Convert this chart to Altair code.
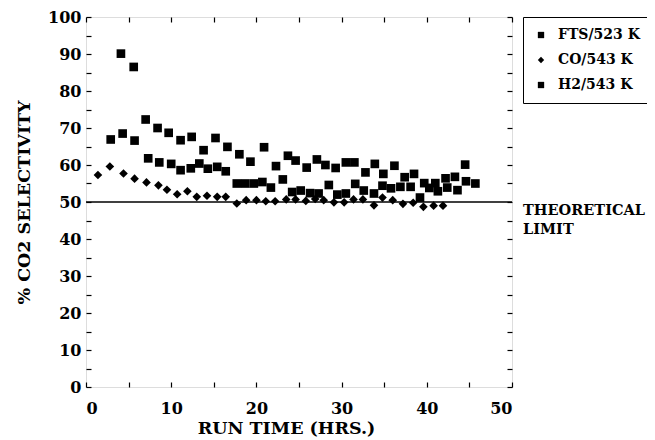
import altair as alt
import pandas as pd

# ---- data ----
fts_x = [4.1, 5.6, 7.0, 8.4, 9.7, 11.1, 12.4, 13.8, 15.2, 16.6, 18.0, 19.3, 20.9, 22.3,
         23.7, 24.6, 25.9, 27.1, 28.1, 29.3, 30.5, 31.5, 32.8, 33.9, 34.9, 36.2, 37.4,
         38.5, 39.7, 41.0, 42.2, 43.3, 44.5, 44.6, 45.7]
fts_y = [90.1, 86.5, 72.3, 70.0, 68.7, 66.7, 67.6, 64.0, 67.3, 64.9, 62.9, 60.9, 64.8, 59.7,
         62.5, 61.2, 59.3, 61.5, 60.0, 59.2, 60.7, 60.7, 58.0, 60.3, 57.6, 59.8, 56.7,
         57.6, 55.1, 55.1, 56.4, 56.8, 60.1, 55.6, 55.0]

co_x = [1.4, 2.8, 4.4, 5.7, 7.1, 8.5, 9.5, 10.7, 11.9, 13.0, 14.2, 15.4, 16.4, 17.7, 18.8,
        20.0, 21.1, 22.2, 23.5, 24.6, 25.8, 26.9, 27.9, 29.1, 30.3, 31.4, 32.5, 33.8, 34.8,
        36.0, 37.2, 38.4, 39.6, 40.8, 41.9]
co_y = [57.3, 59.6, 57.7, 56.3, 55.3, 54.5, 53.3, 52.1, 52.9, 51.4, 51.7, 51.4, 51.4, 49.6, 50.5,
        50.5, 50.2, 50.2, 50.7, 50.7, 50.3, 50.8, 50.5, 49.9, 49.9, 50.7, 50.7, 49.1, 51.2,
        50.5, 49.5, 49.8, 48.7, 49.0, 49.0]

h2_x = [2.9, 4.3, 5.7, 7.3, 8.6, 10.0, 11.1, 12.3, 13.3, 14.3, 15.4, 16.4, 17.7, 18.7, 19.7,
        20.7, 21.7, 23.1, 24.2, 25.2, 26.3, 27.3, 28.5, 29.5, 30.5, 31.6, 32.6, 33.8, 34.8,
        35.8, 36.9, 38.1, 39.2, 40.3, 41.3, 42.4, 43.6]
h2_y = [66.9, 68.5, 66.6, 61.8, 60.7, 60.3, 58.6, 59.1, 60.4, 59.0, 59.5, 58.3, 55.0, 55.0, 55.0,
        55.4, 53.9, 56.1, 52.7, 53.1, 52.4, 52.3, 54.6, 52.0, 52.3, 54.9, 53.1, 52.3, 54.4,
        53.7, 54.1, 54.1, 51.2, 53.8, 52.9, 53.9, 53.2]

series_names = ["FTS/523 K", "CO/543 K", "H2/543 K"]
series_shapes = ["square", "diamond", "square"]
theoretical_limit = [50]
x_ticks = [0, 5, 10, 15, 20, 25, 30, 35, 40, 45, 50]
y_ticks = list(range(0, 101, 5))

rows = []
for name, xs, ys in zip(series_names, [fts_x, co_x, h2_x], [fts_y, co_y, h2_y]):
    for a, b in zip(xs, ys):
        rows.append({"t": a, "s": b, "series": name})
df = pd.DataFrame(rows)

W, H = 426, 370
FONT = "DejaVu Serif"

xscale = alt.Scale(domain=[0, 50], nice=False)
yscale = alt.Scale(domain=[0, 100], nice=False)
LBL = "datum.value % 10 === 0 ? datum.label : ''"
INWARD = alt.ExprRef("-5")

leg = alt.Legend(title=None, orient="none", legendX=437, legendY=0,
                 strokeColor="black", padding=11, labelFont=FONT,
                 labelFontSize=14, labelFontWeight="bold",
                 labelColor="black", symbolSize=40, rowPadding=11,
                 labelOffset=10, symbolStrokeWidth=0)

points = alt.Chart(df).mark_point(filled=True, opacity=1, size=75).encode(
    x=alt.X("t:Q", scale=xscale, title="RUN TIME (HRS.)",
            axis=alt.Axis(orient="bottom", values=x_ticks, labelExpr=LBL, domain=False,
                          tickSize=INWARD, tickColor="black", tickWidth=1.2,
                          labelFont=FONT, labelFontSize=16, labelFontWeight="bold",
                          labelColor="black", labelPadding=18, grid=False,
                          titleFont=FONT, titleFontSize=17.5, titleFontWeight="bold",
                          titleColor="black", titlePadding=3, titleX=200,
                          titleAlign="center")),
    y=alt.Y("s:Q", scale=yscale, title="% CO2 SELECTIVITY",
            axis=alt.Axis(orient="left", values=y_ticks, labelExpr=LBL, domain=False,
                          tickSize=INWARD, tickColor="black", tickWidth=1.2,
                          labelFont=FONT, labelFontSize=16, labelFontWeight="bold",
                          labelColor="black", labelPadding=10, grid=False,
                          titleFont=FONT, titleFontSize=17.5, titleFontWeight="bold",
                          titleColor="black", titlePadding=14)),
    shape=alt.Shape("series:N", scale=alt.Scale(domain=series_names, range=series_shapes),
                    legend=leg),
    color=alt.Color("series:N", scale=alt.Scale(domain=series_names,
                                                range=["black", "black", "black"]),
                    legend=leg),
)

limit_df = pd.DataFrame({"lim": theoretical_limit})
rule = alt.Chart(limit_df).mark_rule(color="black", strokeWidth=1.5).encode(
    y=alt.Y("lim:Q", scale=yscale, axis=None),
    x=alt.value(0), x2=alt.value(W),
)

label = alt.Chart(limit_df).mark_text(
    align="left", baseline="top", font=FONT, fontSize=14.5, fontWeight="bold",
    color="black", lineHeight=19, dy=2, clip=False
).encode(
    x=alt.X(datum=51.3, scale=xscale, axis=None),
    y=alt.Y("lim:Q", scale=yscale, axis=None),
    text=alt.value(["THEORETICAL", "LIMIT"]),
)

# mirrored inward ticks on the top and right edges
tick_df = pd.DataFrame({"v": [0]})
top_ticks = alt.Chart(tick_df).mark_point(opacity=0).encode(
    x=alt.X("v:Q", scale=xscale, title=None,
            axis=alt.Axis(orient="top", values=x_ticks, labels=False, domain=False,
                          tickColor="black", tickWidth=1.2, tickSize=INWARD, grid=False)),
    y=alt.Y("v:Q", scale=yscale, title=None,
            axis=alt.Axis(orient="right", values=y_ticks, labels=False, domain=False,
                          tickColor="black", tickWidth=1.2, tickSize=INWARD, grid=False)),
)

chart = alt.layer(
    points, rule, label, top_ticks,
).resolve_axis(x="independent", y="independent").properties(
    width=W, height=H,
    autosize=alt.AutoSizeParams(type="none"),
    padding={"left": 78, "top": 9, "right": 135, "bottom": 60},
).configure_view(stroke="black", strokeWidth=1.5).configure(background="white")

chart.save("out.html", embed_options={"renderer": "svg", "actions": False})
